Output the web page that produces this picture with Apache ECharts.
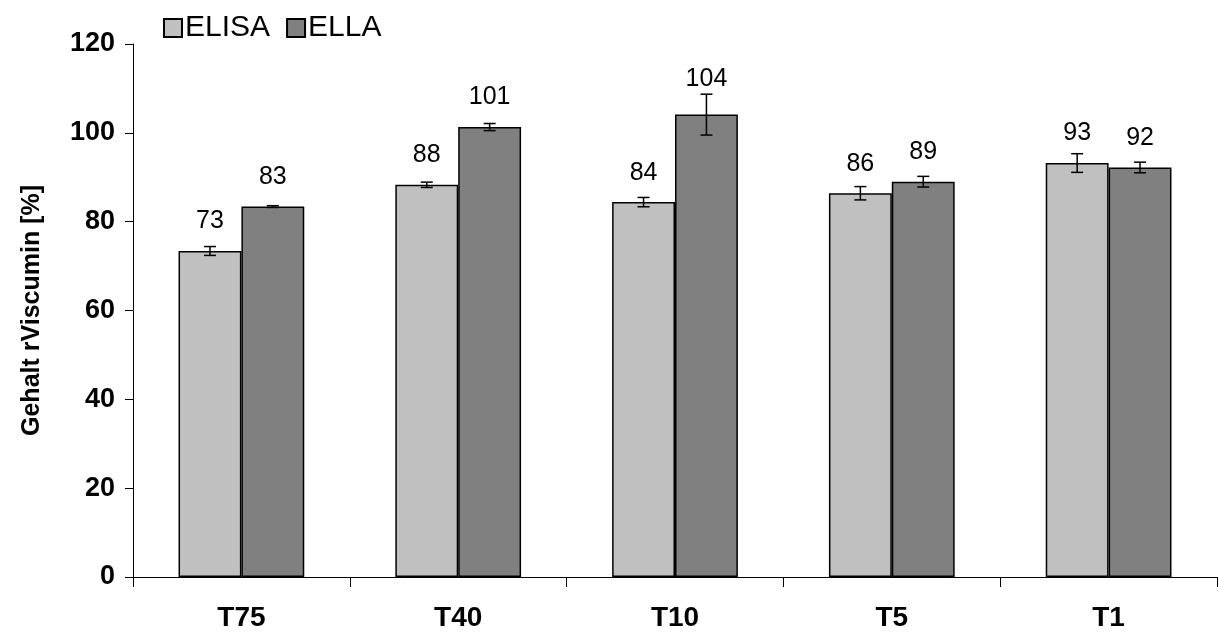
<!DOCTYPE html>
<html>
<head>
<meta charset="utf-8">
<script src="https://cdn.jsdelivr.net/npm/echarts@6/dist/echarts.min.js"></script>
<style>
html,body{margin:0;padding:0;background:#fff;}
#chart{width:1219px;height:634px;}
</style>
</head>
<body>
<div id="chart"></div>
<script>
var categories = ['T75', 'T40', 'T10', 'T5', 'T1'];
var elisaValues = [73.4, 88.3, 84.4, 86.4, 93.2];
var ellaValues = [83.4, 101.3, 104.1, 89.0, 92.2];
var elisaErrors = [1.0, 0.6, 1.05, 1.5, 2.1];
var ellaErrors = [0.2, 0.8, 4.6, 1.2, 1.2];
var yTicks = [0, 20, 40, 60, 80, 100, 120];

var FONT = '"Liberation Sans", Arial, sans-serif';
var CAT_GAP = 0.42;

function errorSeries(name, values, errors, side) {
  var data = values.map(function (v, i) { return [i, v, errors[i]]; });
  return {
    type: 'custom',
    name: name + ' err',
    silent: true,
    z: 5,
    renderItem: function (params, api) {
      var idx = api.value(0);
      var val = api.value(1);
      var err = api.value(2);
      var band = api.size([1, 0])[0];
      var bw = band * (1 - CAT_GAP) / 2;
      var c = api.coord([idx, val]);
      var x = c[0] + side * bw / 2;
      var yTop = api.coord([idx, val + err])[1];
      var yBot = api.coord([idx, val - err])[1];
      var cap = 6;
      var style = { stroke: '#000', lineWidth: 1.5 };
      var labelY = Math.min(c[1] - 17, yTop - 3);
      return {
        type: 'group',
        children: [
          { type: 'line', shape: { x1: x, y1: yTop, x2: x, y2: yBot }, style: style },
          { type: 'line', shape: { x1: x - cap, y1: yTop, x2: x + cap, y2: yTop }, style: style },
          { type: 'line', shape: { x1: x - cap, y1: yBot, x2: x + cap, y2: yBot }, style: style },
          { type: 'text', style: { x: x, y: labelY, text: String(Math.round(val)), align: 'center', verticalAlign: 'bottom', fill: '#000', font: '25px ' + FONT } }
        ]
      };
    },
    data: data
  };
}

var chart = echarts.init(document.getElementById('chart'));
chart.setOption({
  animation: false,
  backgroundColor: '#fff',
  legend: {
    left: 158, top: 8,
    itemWidth: 18, itemHeight: 18, itemGap: 16,
    icon: 'rect',
    textStyle: { fontFamily: FONT, fontSize: 30, color: '#000', padding: [0, 0, 0, -2] },
    data: ['ELISA', 'ELLA']
  },
  grid: { left: 133, right: 2, top: 44, bottom: 57 },
  xAxis: {
    type: 'category',
    data: categories,
    axisLine: { lineStyle: { color: '#000', width: 1 } },
    axisTick: { show: true, length: 10, lineStyle: { color: '#000' } },
    axisLabel: { margin: 27, fontFamily: FONT, fontSize: 28, fontWeight: 'bold', color: '#000' }
  },
  yAxis: {
    type: 'value',
    min: 0, max: 120, interval: 20,
    name: 'Gehalt rViscumin [%]',
    nameLocation: 'middle',
    nameGap: 88,
    nameTextStyle: { fontFamily: FONT, fontSize: 25, fontWeight: 'bold', color: '#000' },
    splitLine: { show: false },
    axisLine: { show: true, lineStyle: { color: '#000', width: 1 } },
    axisTick: { show: true, length: 8, lineStyle: { color: '#000' } },
    axisLabel: {
      margin: 18, fontFamily: FONT, fontSize: 27, fontWeight: 'bold', color: '#000',
      formatter: function (v) { return yTicks.indexOf(v) >= 0 ? String(v) : ''; }
    }
  },
  series: [
    {
      name: 'ELISA', type: 'bar', data: elisaValues,
      barGap: 0, barCategoryGap: (CAT_GAP * 100) + '%',
      itemStyle: { color: '#C0C0C0', borderColor: '#000', borderWidth: 1.5 }
    },
    {
      name: 'ELLA', type: 'bar', data: ellaValues,
      barGap: 0, barCategoryGap: (CAT_GAP * 100) + '%',
      itemStyle: { color: '#808080', borderColor: '#000', borderWidth: 1.5 }
    },
    errorSeries('ELISA', elisaValues, elisaErrors, -1),
    errorSeries('ELLA', ellaValues, ellaErrors, 1)
  ]
});
</script>
</body>
</html>
